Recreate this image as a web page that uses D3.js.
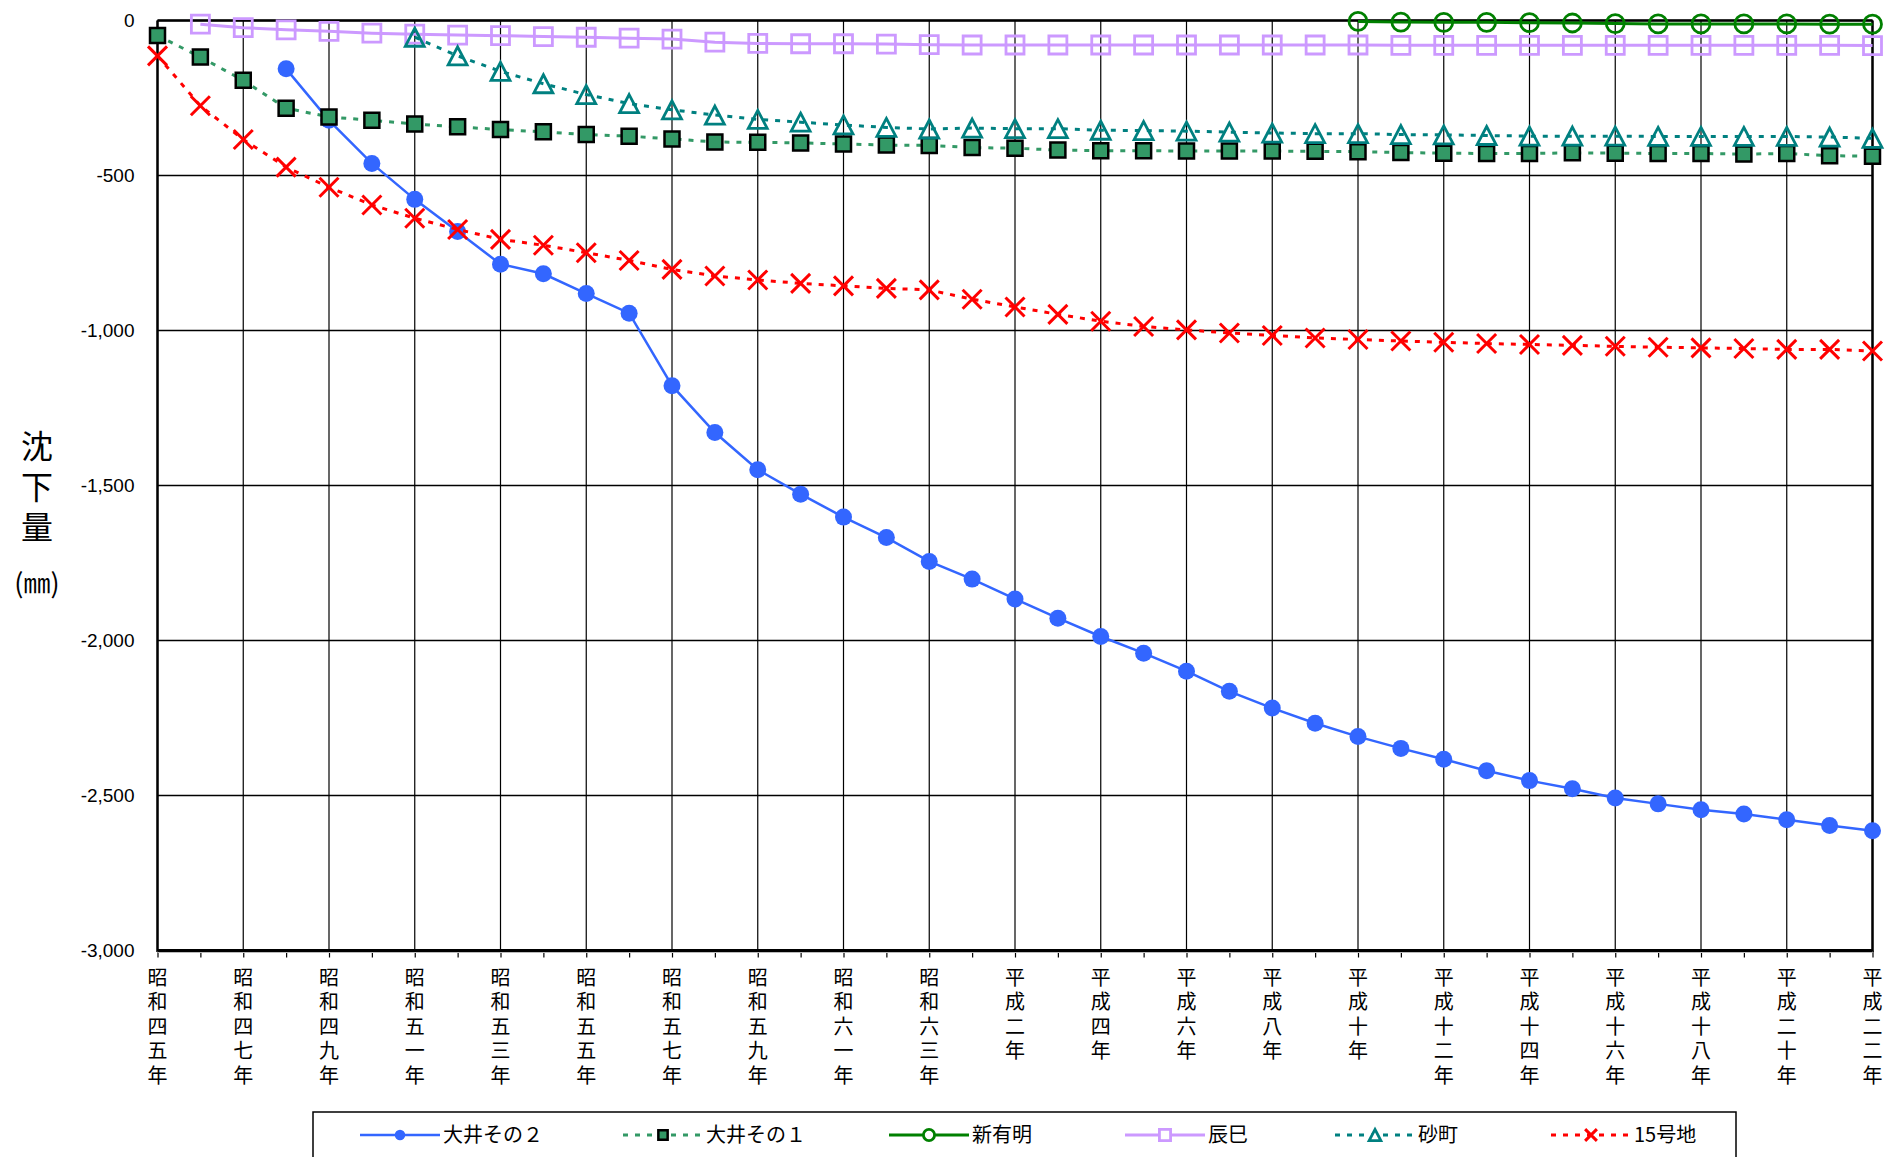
<!DOCTYPE html>
<html>
<head>
<meta charset="utf-8">
<script src="https://cdnjs.cloudflare.com/ajax/libs/d3/7.8.5/d3.min.js"></script>
<style>
  body { margin: 0; background: #fff; }
  .tick-label { font: 19px "Liberation Sans", Arial, sans-serif; fill: #000; }
  .cjk { font-family: "Noto Sans CJK JP", sans-serif; fill: #000; }
  .vert { writing-mode: vertical-rl; text-orientation: upright; }
</style>
</head>
<body>
<div id="chart"></div>
<script>
// years 昭和45年 (1970) .. 平成22年 (2010)
var years = [1970, 1971, 1972, 1973, 1974, 1975, 1976, 1977, 1978, 1979,
             1980, 1981, 1982, 1983, 1984, 1985, 1986, 1987, 1988, 1989,
             1990, 1991, 1992, 1993, 1994, 1995, 1996, 1997, 1998, 1999,
             2000, 2001, 2002, 2003, 2004, 2005, 2006, 2007, 2008, 2009, 2010];

var labelYears = [1970, 1972, 1974, 1976, 1978, 1980, 1982, 1984, 1986, 1988,
                  1990, 1992, 1994, 1996, 1998, 2000, 2002, 2004, 2006, 2008, 2010];
var labelTexts = ["昭和四五年", "昭和四七年", "昭和四九年", "昭和五一年", "昭和五三年",
                  "昭和五五年", "昭和五七年", "昭和五九年", "昭和六一年", "昭和六三年",
                  "平成二年", "平成四年", "平成六年", "平成八年", "平成十年",
                  "平成十二年", "平成十四年", "平成十六年", "平成十八年", "平成二十年", "平成二二年"];

var yTicks = [0, -500, -1000, -1500, -2000, -2500, -3000];

// 沈下量 (mm)
var ooi2 = [null, null, null, -156, -322, -461, -577, -681, -786, -817,
            -881, -944, -1178, -1329, -1449, -1528, -1602, -1668, -1745, -1802,
            -1866, -1928, -1987, -2041, -2099, -2164, -2218, -2267, -2310, -2348,
            -2383, -2420, -2452, -2478, -2508, -2527, -2546, -2560, -2578, -2597, -2614];
var ooi1 = [-48, -118, -193, -283, -311, -322, -334, -343, -352, -359,
            -368, -373, -382, -392, -393, -395, -398, -402, -403, -410,
            -412, -418, -420, -420, -421, -421, -421, -422, -423, -426,
            -428, -429, -429, -427, -428, -429, -429, -431, -429, -436, -438];
var shinAriake = [null, null, null, null, null, null, null, null, null, null,
                  null, null, null, null, null, null, null, null, null, null,
                  null, null, null, null, null, null, null, null, -3, -5,
                  -6, -6, -7, -8, -10, -11, -11, -11, -11, -12, -12];
var tatsumi = [null, -12, -23, -30, -35, -41, -44, -47, -49, -52,
               -54, -57, -60, -70, -74, -75, -75, -76, -78, -79,
               -79, -79, -79, -79, -79, -79, -79, -79, -79, -80,
               -80, -80, -80, -80, -80, -80, -80, -80, -80, -80, -81];
var sunamachi = [null, null, null, null, null, null, -54, -114, -164, -204,
                 -239, -268, -288, -305, -319, -328, -337, -345, -350, -347,
                 -349, -349, -354, -355, -357, -360, -363, -365, -365, -368,
                 -369, -371, -373, -373, -373, -374, -374, -374, -374, -376, -380];
var go15 = [-114, -275, -384, -473, -538, -595, -638, -674, -706, -725,
            -749, -774, -803, -824, -837, -848, -856, -864, -869, -899,
            -924, -948, -970, -987, -998, -1008, -1016, -1024, -1029, -1034,
            -1038, -1042, -1045, -1048, -1051, -1054, -1056, -1058, -1061, -1061, -1066];

var seriesNames = ["大井その２", "大井その１", "新有明", "辰巳", "砂町", "15号地"];

var series = [
  { name: seriesNames[0], values: ooi2, color: "#3366ff", width: 2.5, dash: null, marker: "circleFill" },
  { name: seriesNames[1], values: ooi1, color: "#339966", width: 3, dash: "5,7", marker: "squareFill" },
  { name: seriesNames[2], values: shinAriake, color: "#008000", width: 3, dash: null, marker: "circle" },
  { name: seriesNames[3], values: tatsumi, color: "#cc99ff", width: 3, dash: null, marker: "square" },
  { name: seriesNames[4], values: sunamachi, color: "#008080", width: 3, dash: "5,7", marker: "triangle" },
  { name: seriesNames[5], values: go15, color: "#ff0000", width: 3, dash: "5,7", marker: "cross" }
];

var width = 1901, height = 1157;
var plotLeft = 157.5, plotRight = 1872.5, plotTop = 20.5, plotBottom = 950.5;

var svg = d3.select("#chart").append("svg")
    .attr("width", width)
    .attr("height", height);

var x = d3.scaleLinear().domain([1970, 2010]).range([plotLeft, plotRight]);
var y = d3.scaleLinear().domain([0, -3000]).range([plotTop, plotBottom]);

// grid
var grid = svg.append("g");
grid.selectAll(".hgrid")
    .data(yTicks)
    .enter().append("line")
    .attr("x1", plotLeft).attr("x2", plotRight)
    .attr("y1", function(d) { return y(d); })
    .attr("y2", function(d) { return y(d); })
    .attr("stroke", "#000").attr("stroke-width", 1.5);

grid.selectAll(".vgrid")
    .data(labelYears)
    .enter().append("line")
    .attr("x1", function(d) { return x(d); })
    .attr("x2", function(d) { return x(d); })
    .attr("y1", plotTop).attr("y2", plotBottom)
    .attr("stroke", "#000").attr("stroke-width", 1.2);

// x axis with a tick every year
var xAxis = d3.axisBottom(x)
    .tickValues(years)
    .tickSize(7)
    .tickFormat("");
var xg = svg.append("g")
    .attr("transform", "translate(0," + plotBottom + ")")
    .call(xAxis);
xg.select(".domain").remove();
xg.selectAll(".tick line").attr("stroke", "#000").attr("stroke-width", 1.2);

// y axis labels
var yAxis = d3.axisLeft(y)
    .tickValues(yTicks)
    .tickSize(0)
    .tickPadding(23)
    .tickFormat(d3.format(","));
var yg = svg.append("g")
    .attr("transform", "translate(" + plotLeft + ",0)")
    .call(yAxis);
yg.select(".domain").remove();
yg.selectAll(".tick text")
    .attr("class", "tick-label")
    .text(function(d) { return d3.format(",")(d).replace("−", "-"); });

// frame
svg.append("line").attr("x1", plotLeft).attr("x2", plotRight).attr("y1", plotTop).attr("y2", plotTop)
    .attr("stroke", "#000").attr("stroke-width", 2.5);
svg.append("line").attr("x1", plotLeft).attr("x2", plotLeft).attr("y1", plotTop).attr("y2", plotBottom + 1.5)
    .attr("stroke", "#000").attr("stroke-width", 2.5);
svg.append("line").attr("x1", plotRight).attr("x2", plotRight).attr("y1", plotTop).attr("y2", plotBottom + 1.5)
    .attr("stroke", "#000").attr("stroke-width", 2.5);
svg.append("line").attr("x1", plotLeft).attr("x2", plotRight).attr("y1", plotBottom + 1.5).attr("y2", plotBottom + 1.5)
    .attr("stroke", "#bbb").attr("stroke-width", 2);
svg.append("line").attr("x1", plotLeft).attr("x2", plotRight).attr("y1", plotBottom).attr("y2", plotBottom)
    .attr("stroke", "#000").attr("stroke-width", 3);

// x labels, written top to bottom
svg.append("g").selectAll("text")
    .data(labelYears)
    .enter().append("text")
    .attr("class", "cjk vert")
    .attr("x", function(d) { return x(d); })
    .attr("y", 967)
    .style("font-size", "20px")
    .style("letter-spacing", "4.5px")
    .text(function(d, i) { return labelTexts[i]; });

// y axis title
svg.append("text")
    .attr("class", "cjk vert")
    .attr("x", 37).attr("y", 430)
    .style("font-size", "32px")
    .style("letter-spacing", "8.5px")
    .text("沈下量");
svg.append("text")
    .attr("class", "cjk")
    .attr("text-anchor", "middle")
    .attr("x", 37).attr("y", 593)
    .style("font-size", "27px")
    .text("(㎜)");

// marker shapes
function markerPath(type, s) {
  if (type == "circle" || type == "circleFill") {
    return d3.symbol().type(d3.symbolCircle).size(Math.PI * s * s)();
  }
  if (type == "square" || type == "squareFill") {
    return "M" + (-s) + "," + (-s) + "H" + s + "V" + s + "H" + (-s) + "Z";
  }
  if (type == "triangle") {
    return "M0," + (-s) + "L" + (s * 1.05) + "," + s + "L" + (-s * 1.05) + "," + s + "Z";
  }
  return "M" + (-s) + "," + (-s) + "L" + s + "," + s + "M" + (-s) + "," + s + "L" + s + "," + (-s);
}

function markerSize(type) {
  return { circleFill: 8.5, squareFill: 7.5, circle: 9, square: 9, triangle: 9, cross: 9.5 }[type];
}

function drawMarker(g, s, type, color, scale) {
  var size = markerSize(type) * scale;
  var p = g.append("path").attr("d", markerPath(type, size));
  if (type == "circleFill") {
    p.attr("fill", color).attr("stroke", "none");
  } else if (type == "squareFill") {
    p.attr("fill", color).attr("stroke", "#000").attr("stroke-width", 2.5);
  } else if (type == "cross") {
    p.attr("fill", "none").attr("stroke", color).attr("stroke-width", 3);
  } else {
    p.attr("fill", scale < 1 ? "#fff" : "none").attr("stroke", color).attr("stroke-width", 2.8);
  }
  return p;
}

// series
var line = d3.line()
    .defined(function(d) { return d != null; })
    .x(function(d, i) { return x(years[i]); })
    .y(function(d) { return y(d); });

series.forEach(function(s) {
  var g = svg.append("g");
  g.append("path")
      .attr("d", line(s.values))
      .attr("fill", "none")
      .attr("stroke", s.color)
      .attr("stroke-width", s.width)
      .attr("stroke-dasharray", s.dash);

  s.values.forEach(function(v, i) {
    if (v == null) return;
    var m = g.append("g").attr("transform", "translate(" + x(years[i]) + "," + y(v) + ")");
    drawMarker(m, s, s.marker, s.color, 1);
  });
});

// legend
var legendX = [360, 623, 889, 1125, 1335, 1551];
var legendY = 1135;
svg.append("rect")
    .attr("x", 313).attr("y", 1112)
    .attr("width", 1423).attr("height", 70)
    .attr("fill", "#fff")
    .attr("stroke", "#000").attr("stroke-width", 1.5);

series.forEach(function(s, i) {
  var g = svg.append("g").attr("transform", "translate(" + legendX[i] + "," + legendY + ")");
  g.append("line")
      .attr("x1", 0).attr("x2", 80)
      .attr("stroke", s.color)
      .attr("stroke-width", s.width)
      .attr("stroke-dasharray", s.dash);
  var m = g.append("g").attr("transform", "translate(40,0)");
  drawMarker(m, s, s.marker, s.color, 0.62);
  g.append("text")
      .attr("class", "cjk")
      .attr("x", 83)
      .attr("dy", "0.35em")
      .style("font-size", "20px")
      .text(s.name);
});
</script>
</body>
</html>
